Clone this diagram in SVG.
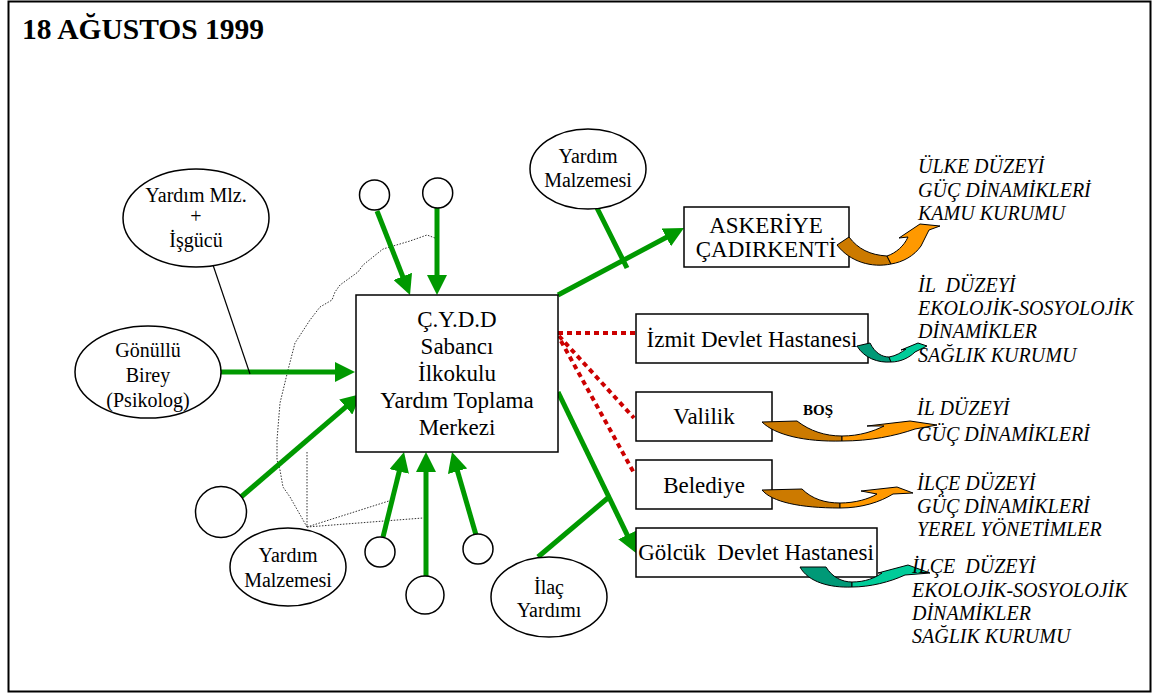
<svg xmlns="http://www.w3.org/2000/svg" width="1159" height="697" viewBox="0 0 1159 697">
<style>
.box{fill:#fff;stroke:#000;stroke-width:1.5}
.ell{fill:#fff;stroke:#000;stroke-width:1.5}
.t{font-family:"Liberation Serif","Times New Roman",serif;font-size:23px;fill:#000;text-anchor:middle}
.te{font-family:"Liberation Serif","Times New Roman",serif;font-size:20px;fill:#000;text-anchor:middle}
.ti{font-family:"Liberation Serif","Times New Roman",serif;font-size:20px;font-style:italic;fill:#000}
.g{stroke:#009900;stroke-width:5;fill:none}
.ga{stroke:#009900;stroke-width:5;fill:none;marker-end:url(#ah)}
.r{stroke:#CC0000;stroke-width:4;stroke-dasharray:5 4;fill:none}
.d{stroke:#333;stroke-width:1;stroke-dasharray:1.5 1.5;fill:none}
.od{fill:#CC7A00;stroke:#000;stroke-width:1}
.ol{fill:#FF9900;stroke:#000;stroke-width:1}
.gd{fill:#009977;stroke:#000;stroke-width:1}
.gl{fill:#00CC99;stroke:#000;stroke-width:1}
</style>
<defs>
<marker id="ah" markerUnits="userSpaceOnUse" markerWidth="20" markerHeight="20" refX="12" refY="10" orient="auto">
<path d="M0,0 L20,10 L0,20 z" fill="#009900"/>
</marker>
</defs>
<rect x="8.5" y="1.5" width="1142" height="690" fill="#fff" stroke="#000" stroke-width="2"/>
<text x="22" y="39" font-family="Liberation Serif, serif" font-size="29.5" font-weight="bold">18 AĞUSTOS 1999</text>

<g id="dotted">
<path class="d" d="M 435,238 L 427,235 L 410,241 L 383,249 L 363,265 L 358,272 L 340,285 L 335,292 L 332,300 L 320,307 L 310,320 L 295,343 L 288,370 L 280,403 L 277,440 L 277,460 L 280,470 L 283,487 L 290,497 L 307,527"/>
<path class="d" d="M 307,452 L 307,527"/>
<path class="d" d="M 307,527 L 392,500"/>
<path class="d" d="M 307,527 L 423,518"/>
</g>

<g id="connectors">
<line class="ga" x1="377" y1="211" x2="407.1" y2="287.6"/>
<line class="ga" x1="437" y1="208" x2="437" y2="287"/>
<line class="ga" x1="220" y1="372" x2="347" y2="372"/>
<line class="ga" x1="241" y1="497" x2="354.9" y2="399.2"/>
<line class="ga" x1="383" y1="537" x2="402.1" y2="459.8"/>
<line class="ga" x1="426" y1="576" x2="426" y2="460"/>
<line class="ga" x1="476" y1="535" x2="454.2" y2="459.7"/>
<line class="ga" x1="558" y1="295" x2="676.9" y2="231.8"/>
<line class="ga" x1="558" y1="392" x2="632.5" y2="545.8"/>
<line class="g" x1="597" y1="208" x2="627" y2="268"/>
<line class="g" x1="538" y1="557" x2="609" y2="497"/>
<line x1="213" y1="265" x2="250" y2="374" stroke="#000" stroke-width="1.2"/>
<line class="r" x1="558" y1="333" x2="636" y2="333"/>
<line class="r" x1="559" y1="336" x2="634" y2="418"/>
<line class="r" x1="561" y1="341" x2="634" y2="473"/>
</g>

<g id="center">
<rect class="box" x="356" y="295" width="202" height="157"/>
<text class="t" x="457" y="327">Ç.Y.D.D</text>
<text class="t" x="457" y="354">Sabancı</text>
<text class="t" x="457" y="381">İlkokulu</text>
<text class="t" x="457" y="408">Yardım Toplama</text>
<text class="t" x="457" y="435">Merkezi</text>
</g>

<g id="c1"><circle class="ell" cx="374.5" cy="195" r="15"/></g>
<g id="c2"><circle class="ell" cx="437.7" cy="193" r="15"/></g>
<g id="c3"><circle class="ell" cx="221" cy="512" r="25.5"/></g>
<g id="c4"><circle class="ell" cx="380" cy="552" r="15"/></g>
<g id="c5"><circle class="ell" cx="425" cy="595" r="19"/></g>
<g id="c6"><circle class="ell" cx="478" cy="549" r="15"/></g>

<g id="yardimMlz">
<ellipse class="ell" cx="196" cy="218" rx="73" ry="49"/>
<text class="te" x="196" y="202">Yardım Mlz.</text>
<text class="te" x="196" y="223">+</text>
<text class="te" x="196" y="247">İşgücü</text>
</g>
<g id="gonullu">
<ellipse class="ell" cx="148" cy="372" rx="73" ry="46"/>
<text class="te" x="148" y="357">Gönüllü</text>
<text class="te" x="148" y="382">Birey</text>
<text class="te" x="148" y="407">(Psikolog)</text>
</g>
<g id="yardimMalz1">
<ellipse class="ell" cx="288" cy="567" rx="58" ry="39"/>
<text class="te" x="288" y="562">Yardım</text>
<text class="te" x="288" y="587">Malzemesi</text>
</g>
<g id="yardimMalz2">
<ellipse class="ell" cx="588" cy="169" rx="58" ry="40"/>
<text class="te" x="588" y="163">Yardım</text>
<text class="te" x="588" y="187">Malzemesi</text>
</g>
<g id="ilac">
<ellipse class="ell" cx="549" cy="597" rx="58" ry="40"/>
<text class="te" x="549" y="594">İlaç</text>
<text class="te" x="549" y="617">Yardımı</text>
</g>

<g id="askeriye">
<rect class="box" x="684" y="207" width="165" height="60"/>
<text class="t" x="766" y="233">ASKERİYE</text>
<text class="t" x="766" y="257">ÇADIRKENTİ</text>
</g>
<g id="izmit">
<rect class="box" x="636" y="314" width="232" height="49"/>
<text class="t" x="752" y="347">İzmit Devlet Hastanesi</text>
</g>
<g id="valilik">
<rect class="box" x="636" y="392" width="136" height="49"/>
<text class="t" x="704" y="424">Valilik</text>
</g>
<g id="belediye">
<rect class="box" x="636" y="460" width="136" height="49"/>
<text class="t" x="704" y="493">Belediye</text>
</g>
<g id="golcuk">
<rect class="box" x="636" y="528" width="241" height="49"/>
<text class="t" x="756" y="560" xml:space="preserve">Gölcük  Devlet Hastanesi</text>
</g>

<g id="curved-arrows">
<path class="od" d="M 837,245 L 849,237 C 858,249 870,255 887,256 L 891,264 C 872,268 850,262 837,245 Z"/>
<path class="ol" d="M 887,256 C 896,253 904,246 908,237 L 899,238 L 920,224 L 940,226 L 929,230 L 921,246 C 914,256 903,262 891,264 Z"/>
<path class="gd" d="M 857,346 L 870,343 C 875,353 882,357 889,357 L 891,362 C 878,363 864,358 857,346 Z"/>
<path class="gl" d="M 889,357 C 896,356 902,352 906,349 L 901,350 L 918,343 L 927,346 L 915,352 C 909,358 900,362 891,362 Z"/>
<path class="od" d="M 762,422 L 797,421 C 810,431 825,436 842,436 L 842,441 C 805,442 775,435 762,422 Z"/>
<path class="ol" d="M 842,436 C 860,436 874,431 884,426 L 867,426 L 910,421 L 937,425 L 915,429 C 895,436 870,441 842,441 Z"/>
<path class="od" d="M 762,490 L 802,489 C 812,499 825,503 840,503 L 840,508 C 800,508 772,502 762,490 Z"/>
<path class="ol" d="M 840,503 C 855,503 869,499 877,494 L 861,491 L 897,487 L 913,493 L 893,494 C 880,502 862,508 840,508 Z"/>
<path class="gd" d="M 800,567 L 826,567 C 832,577 842,582 852,582 L 852,587 C 830,588 808,582 800,567 Z"/>
<path class="gl" d="M 852,582 C 865,582 875,578 882,573 L 878,573 L 908,565 L 930,573 L 905,575 C 890,582 870,587 852,587 Z"/>
</g>

<text x="803" y="415" font-family="Liberation Serif, serif" font-size="15" font-weight="bold">BOŞ</text>

<g id="labels">
<text class="ti" x="918" y="173">ÜLKE DÜZEYİ</text>
<text class="ti" x="918" y="197">GÜÇ DİNAMİKLERİ</text>
<text class="ti" x="918" y="220">KAMU KURUMU</text>
<text class="ti" x="918" y="292" xml:space="preserve">İL  DÜZEYİ</text>
<text class="ti" x="918" y="315">EKOLOJİK-SOSYOLOJİK</text>
<text class="ti" x="918" y="338">DİNAMİKLER</text>
<text class="ti" x="918" y="362">SAĞLIK KURUMU</text>
<text class="ti" x="917" y="415">İL DÜZEYİ</text>
<text class="ti" x="917" y="441">GÜÇ DİNAMİKLERİ</text>
<text class="ti" x="917" y="490">İLÇE DÜZEYİ</text>
<text class="ti" x="917" y="513">GÜÇ DİNAMİKLERİ</text>
<text class="ti" x="917" y="536">YEREL YÖNETİMLER</text>
<text class="ti" x="912" y="573" xml:space="preserve">İLÇE  DÜZEYİ</text>
<text class="ti" x="912" y="597">EKOLOJİK-SOSYOLOJİK</text>
<text class="ti" x="912" y="620">DİNAMİKLER</text>
<text class="ti" x="912" y="643">SAĞLIK KURUMU</text>
</g>
</svg>
